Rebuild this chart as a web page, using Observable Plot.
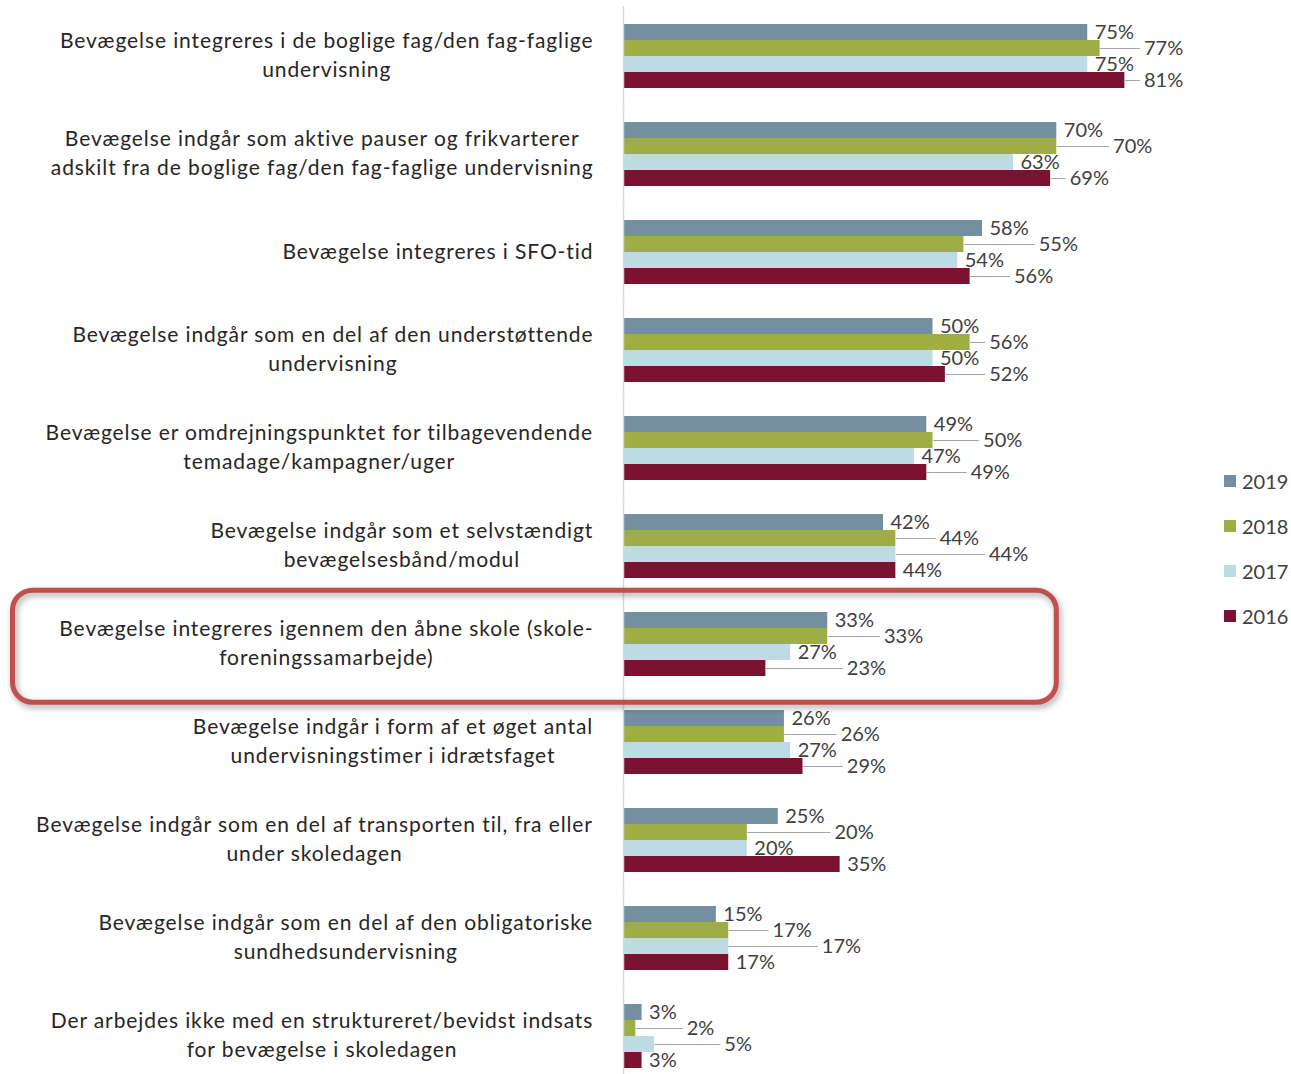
<!DOCTYPE html>
<html><head><meta charset="utf-8">
<script src="https://cdn.jsdelivr.net/npm/d3@7"></script>
<script src="https://cdn.jsdelivr.net/npm/@observablehq/plot@0.6"></script>
<style>
body{margin:0;background:#fff;}
#wrap{position:relative;width:1291px;height:1074px;overflow:hidden;font-family:Lato,sans-serif;}
#legend{position:absolute;left:1224px;top:458px;font:20px Lato,sans-serif;color:#404040;}
#legend .item{display:flex;align-items:center;height:45px;}
#legend .sw{width:12px;height:12px;margin-right:6px;}
</style></head><body><div id="wrap"></div>
<script>
const categories = [
  "Bevægelse integreres i de boglige fag/den fag-faglige\nundervisning",
  "Bevægelse indgår som aktive pauser og frikvarterer\nadskilt fra de boglige fag/den fag-faglige undervisning",
  "Bevægelse integreres i SFO-tid",
  "Bevægelse indgår som en del af den understøttende\nundervisning",
  "Bevægelse er omdrejningspunktet for tilbagevendende\ntemadage/kampagner/uger",
  "Bevægelse indgår som et selvstændigt\nbevægelsesbånd/modul",
  "Bevægelse integreres igennem den åbne skole (skole-\nforeningssamarbejde)",
  "Bevægelse indgår i form af et øget antal\nundervisningstimer i idrætsfaget",
  "Bevægelse indgår som en del af transporten til, fra eller\nunder skoledagen",
  "Bevægelse indgår som en del af den obligatoriske\nsundhedsundervisning",
  "Der arbejdes ikke med en struktureret/bevidst indsats\nfor bevægelse i skoledagen"
];
const years = ["2019", "2018", "2017", "2016"];
const v2019 = [75, 70, 58, 50, 49, 42, 33, 26, 25, 15, 3];
const v2018 = [77, 70, 55, 56, 50, 44, 33, 26, 20, 17, 2];
const v2017 = [75, 63, 54, 50, 47, 44, 27, 27, 20, 17, 5];
const v2016 = [81, 69, 56, 52, 49, 44, 23, 29, 35, 17, 3];
const colors = ["#738fa0", "#9fae44", "#bcdbe3", "#7b1232"];
const highlightIndex = 6;

const series = [v2019, v2018, v2017, v2016];
const W = 1291, H = 1074, ML = 623, MR = 49, MT = 22, MB = 4;
const PI = 0.327;
const k = (W - ML - MR) / 100;
const CAT_FS = 21, CAT_LS = 0.9, VAL_FS = 20;

const data = [];
categories.forEach((c, ci) => years.forEach((y, yi) => data.push({cat: c, year: y, value: series[yi][ci]})));

// value-label layout
const cv = document.createElement("canvas").getContext("2d");
cv.font = VAL_FS + "px Lato";
const labels = [];
categories.forEach((c, ci) => {
  const placed = [];
  years.forEach((y, yi) => {
    const v = series[yi][ci];
    const text = v + "%";
    const w = cv.measureText(text).width;
    const end = v * k;
    let x0 = end + 7;
    for (let pass = 0; pass < 2; pass++)
      for (const p of placed)
        if (Math.abs(p.yi - yi) < 2 && x0 < p.x1 + 3 && x0 + w > p.x0 - 3) x0 = p.x1 + 10;
    placed.push({yi, x0, x1: x0 + w});
    labels.push({cat: c, year: y, value: v, text, lx: x0 / k, leader: x0 > end + 12, lend: (x0 - 4) / k});
  });
});

const marks = [
  Plot.barX(data, {fy: "cat", y: "year", x: "value", fill: "year"}),
  Plot.ruleX([0], {stroke: "#d9d9d9", strokeWidth: 1.5, insetTop: -17, insetBottom: -17}),
  Plot.link(labels.filter(d => d.leader), {fy: "cat", y1: "year", y2: "year", x1: "value", x2: "lend", stroke: "#a6a6a6", strokeWidth: 1}),
  Plot.text(labels, {fy: "cat", y: "year", x: "lx", text: "text", textAnchor: "start", fontSize: VAL_FS, fontFamily: "Lato", fill: "#404040"})
];
cv.font = CAT_FS + "px Lato";
categories.forEach(c => {
  const bw = Math.max(...c.split("\n").map(s => cv.measureText(s).width + s.length * CAT_LS));
  marks.push(Plot.text([c], {fy: d => d, x: d => 0, text: d => d, textAnchor: "middle", dx: -(30 + bw / 2), dy: -3,
    fontSize: CAT_FS, fontFamily: "Lato", fill: "#262626", lineHeight: 1.38}));
});

const plot = Plot.plot({
  width: W, height: H, marginLeft: ML, marginRight: MR, marginTop: MT, marginBottom: MB,
  x: {domain: [0, 100], axis: null},
  y: {domain: years, padding: 0, axis: null},
  fy: {domain: categories, paddingInner: PI, paddingOuter: 0, axis: null},
  color: {domain: years, range: colors},
  style: {background: "white", fontFamily: "Lato"},
  marks
});
const wrap = document.getElementById("wrap");
wrap.appendChild(plot);
d3.select(plot).selectAll('g[fill="#262626"]').style("letter-spacing", CAT_LS + "px");

// highlight box around one category
const fyStep = (H - MT - MB) / (categories.length - PI);
const fyBand = fyStep * (1 - PI);
const bandTop = MT + highlightIndex * fyStep;
const xs = plot.scale("x");
d3.select(plot).append("rect")
  .attr("x", 12.5).attr("y", bandTop - 21)
  .attr("width", xs.apply(70) - 12.5).attr("height", fyBand + 46)
  .attr("rx", 20).attr("ry", 20)
  .attr("fill", "none").attr("stroke", "#c0504d").attr("stroke-width", 5)
  .style("filter", "drop-shadow(2px 3px 3px rgba(0,0,0,0.35))");

// legend
const lg = document.createElement("div");
lg.id = "legend";
years.forEach((y, i) => {
  const it = document.createElement("div"); it.className = "item";
  const sw = document.createElement("div"); sw.className = "sw"; sw.style.background = colors[i];
  const t = document.createElement("span"); t.textContent = y;
  it.appendChild(sw); it.appendChild(t); lg.appendChild(it);
});
wrap.appendChild(lg);
</script></body></html>
